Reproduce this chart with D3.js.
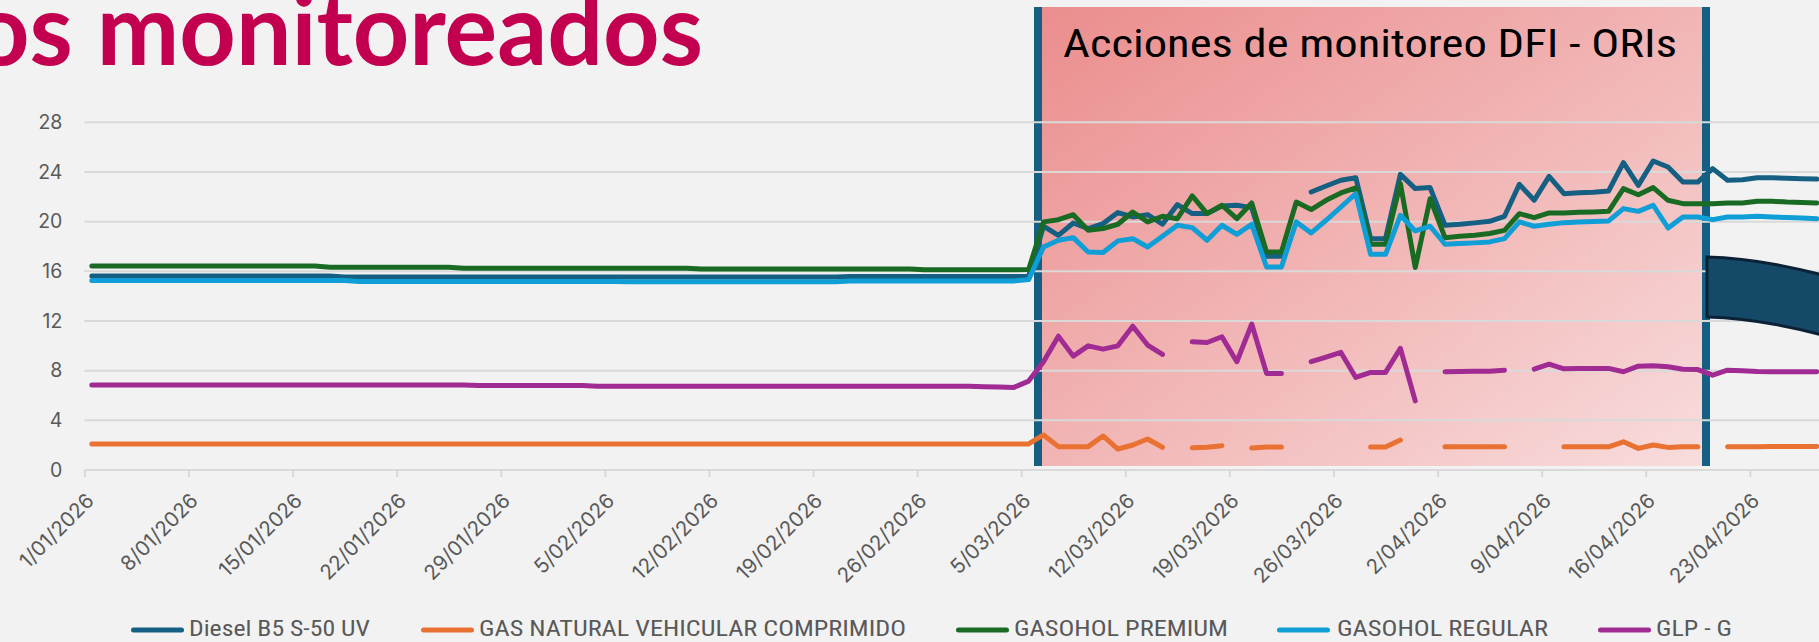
<!DOCTYPE html>
<html><head><meta charset="utf-8">
<script src="https://cdn.jsdelivr.net/npm/d3@7"></script>
<style>html,body{margin:0;padding:0;background:#F2F2F2;overflow:hidden}</style>
</head><body>
<svg id="c" width="1819" height="642"></svg>
<script>
// ---------------- DATA ----------------
const startDate = Date.UTC(2026, 0, 1);   // first category: 1/01/2026, one value per day
const tickLabels = ["1/01/2026","8/01/2026","15/01/2026","22/01/2026","29/01/2026","5/02/2026",
  "12/02/2026","19/02/2026","26/02/2026","5/03/2026","12/03/2026","19/03/2026","26/03/2026",
  "2/04/2026","9/04/2026","16/04/2026","23/04/2026"];
const yTicks = [0,4,8,12,16,20,24,28];
const seriesNames = ["Diesel B5 S-50 UV","GAS NATURAL VEHICULAR COMPRIMIDO","GASOHOL PREMIUM","GASOHOL REGULAR","GLP - G"];
const seriesColors = ["#156082","#E97132","#196B24","#0F9ED5","#A02B93"];

const diesel = [
  15.62,15.62,15.62,15.62,15.62,15.62,15.62,
  15.62,15.62,15.62,15.62,15.62,15.62,15.62,
  15.62,15.62,15.62,15.55,15.55,15.55,15.55,
  15.55,15.55,15.55,15.55,15.55,15.55,15.55,
  15.55,15.55,15.55,15.55,15.55,15.55,15.55,
  15.55,15.55,15.55,15.55,15.55,15.55,15.55,
  15.55,15.55,15.55,15.55,15.55,15.55,15.55,
  15.55,15.55,15.58,15.58,15.58,15.58,15.58,
  15.58,15.58,15.58,15.58,15.58,15.58,15.58,
  15.60,19.63,18.90,19.89,19.44,19.84,20.73,
  20.38,20.56,19.79,21.37,20.65,20.65,21.26,
  21.32,21.13,17.21,17.21,null,22.39,22.87,
  23.33,23.54,18.63,18.63,23.81,22.66,22.74,
  19.71,19.79,19.90,20.03,20.43,23.00,21.72,
  23.65,22.25,22.33,22.36,22.47,24.75,22.92,
  24.88,24.40,23.19,23.19,24.27,23.33,23.38,
  23.54,23.54,23.49,23.46,23.43];

const gnv = [
  2.10,2.10,2.10,2.10,2.10,2.10,2.10,
  2.10,2.10,2.10,2.10,2.10,2.10,2.10,
  2.10,2.10,2.10,2.10,2.10,2.10,2.10,
  2.10,2.10,2.10,2.10,2.10,2.10,2.10,
  2.10,2.10,2.10,2.10,2.10,2.10,2.10,
  2.10,2.10,2.10,2.10,2.10,2.10,2.10,
  2.10,2.10,2.10,2.10,2.10,2.10,2.10,
  2.10,2.10,2.10,2.10,2.10,2.10,2.10,
  2.10,2.10,2.10,2.10,2.10,2.10,2.10,
  2.10,2.82,1.88,1.88,1.88,2.74,1.69,
  2.01,2.50,1.83,null,1.80,1.83,1.96,
  null,1.77,1.85,1.85,null,null,null,
  null,null,1.85,1.85,2.41,null,null,
  1.87,1.87,1.87,1.87,1.87,null,null,
  null,1.87,1.87,1.87,1.87,2.27,1.74,
  2.01,1.82,1.87,1.87,null,1.87,1.88,
  1.88,1.90,1.90,1.90,1.90];

const premium = [
  16.42,16.42,16.42,16.42,16.42,16.42,16.42,
  16.42,16.42,16.42,16.42,16.42,16.42,16.42,
  16.42,16.42,16.32,16.32,16.32,16.32,16.32,
  16.32,16.32,16.32,16.32,16.25,16.25,16.25,
  16.25,16.25,16.25,16.25,16.25,16.25,16.25,
  16.25,16.25,16.25,16.25,16.25,16.25,16.18,
  16.18,16.18,16.18,16.18,16.18,16.18,16.18,
  16.18,16.18,16.18,16.18,16.18,16.18,16.18,
  16.12,16.12,16.12,16.12,16.12,16.12,16.12,
  16.14,19.98,20.16,20.56,19.30,19.44,19.79,
  20.78,19.98,20.43,20.24,22.07,20.65,21.32,
  20.24,21.50,17.56,17.56,21.58,20.97,21.72,
  22.31,22.71,18.18,18.18,23.06,16.30,21.85,
  18.71,18.82,18.90,19.04,19.30,20.64,20.32,
  20.70,20.70,20.75,20.78,20.83,22.66,22.17,
  22.74,21.72,21.45,21.45,21.45,21.50,21.50,
  21.64,21.64,21.58,21.55,21.50];

const regular = [
  15.26,15.26,15.26,15.26,15.26,15.26,15.26,
  15.26,15.26,15.26,15.26,15.26,15.26,15.26,
  15.26,15.26,15.26,15.26,15.18,15.18,15.18,
  15.18,15.18,15.18,15.18,15.18,15.18,15.18,
  15.18,15.18,15.18,15.18,15.18,15.18,15.18,
  15.18,15.15,15.15,15.15,15.15,15.15,15.15,
  15.15,15.15,15.15,15.15,15.15,15.15,15.15,
  15.15,15.15,15.22,15.22,15.22,15.22,15.22,
  15.22,15.22,15.22,15.22,15.22,15.22,15.22,
  15.33,17.96,18.50,18.71,17.56,17.51,18.45,
  18.63,17.96,18.82,19.71,19.52,18.50,19.71,
  18.98,19.79,16.35,16.35,19.98,19.09,20.11,
  21.18,22.25,17.37,17.37,20.51,19.25,19.63,
  18.18,18.23,18.29,18.37,18.63,19.98,19.63,
  19.79,19.92,19.98,20.01,20.06,21.05,20.83,
  21.32,19.49,20.38,20.38,20.16,20.38,20.38,
  20.43,20.38,20.33,20.30,20.24];

const glp = [
  6.85,6.85,6.85,6.85,6.85,6.85,6.85,
  6.85,6.85,6.85,6.85,6.85,6.85,6.85,
  6.85,6.85,6.85,6.85,6.85,6.85,6.85,
  6.85,6.85,6.85,6.85,6.85,6.80,6.80,
  6.80,6.80,6.80,6.80,6.80,6.80,6.74,
  6.74,6.74,6.74,6.74,6.74,6.74,6.74,
  6.74,6.74,6.74,6.74,6.74,6.74,6.74,
  6.74,6.74,6.74,6.74,6.74,6.74,6.74,
  6.74,6.74,6.74,6.74,6.70,6.68,6.65,
  7.16,8.71,10.78,9.17,10.00,9.73,10.00,
  11.58,10.06,9.31,null,10.32,10.27,10.73,
  8.72,11.75,7.78,7.78,null,8.72,9.09,
  9.47,7.45,7.86,7.86,9.79,5.57,null,
  7.91,7.93,7.95,7.96,8.04,null,8.12,
  8.52,8.15,8.18,8.18,8.18,7.91,8.36,
  8.39,8.31,8.12,8.09,7.64,8.04,7.99,
  7.93,7.91,7.91,7.91,7.91];

const seriesValues = [diesel, gnv, premium, regular, glp];

const titleText = "os monitoreados";
const bandText = "Acciones de monitoreo DFI - ORIs";

// ---------------- LAYOUT ----------------
const W = 1819, H = 642;
const plotLeft = 84.4, dayPx = 14.87, yTop = 122.3, yBottom = 470;
const DAY = 86400000;

const svg = d3.select("#c");
svg.append("rect").attr("width", W).attr("height", H).attr("fill", "#F2F2F2");

const x = d3.scaleUtc()
  .domain([new Date(startDate), new Date(startDate + 120 * DAY)])
  .range([plotLeft, plotLeft + 120 * dayPx]);
const y = d3.scaleLinear().domain([0, 28]).range([yBottom, yTop]);

const dateOf = i => new Date(startDate + i * DAY + DAY / 2);   // points centred in day slot
const parseLabel = s => { const [d, m, yy] = s.split("/").map(Number); return new Date(Date.UTC(yy, m - 1, d)); };
const tickDates = tickLabels.map(parseLabel);

// highlight band (annotation shape behind the chart)
const defs = svg.append("defs");
const g1 = defs.append("linearGradient").attr("id", "pink")
  .attr("x1", 0).attr("y1", 0).attr("x2", 1).attr("y2", 1);
g1.append("stop").attr("offset", 0).attr("stop-color", "#EB8D8D");
g1.append("stop").attr("offset", 1).attr("stop-color", "#F8DCDC");

const band = {x0: 1042, x1: 1702, y0: 7, y1: 466, bar: 8};
svg.append("rect").attr("x", band.x0).attr("y", band.y0)
  .attr("width", band.x1 - band.x0).attr("height", band.y1 - band.y0).attr("fill", "url(#pink)");
svg.append("rect").attr("x", band.x0 - band.bar).attr("y", band.y0)
  .attr("width", band.bar).attr("height", band.y1 - band.y0).attr("fill", "#156082");
svg.append("rect").attr("x", band.x1).attr("y", band.y0)
  .attr("width", band.bar).attr("height", band.y1 - band.y0).attr("fill", "#156082");

// gridlines
svg.append("g").selectAll("line").data(yTicks.filter(v => v > 0)).join("line")
  .attr("x1", plotLeft).attr("x2", W).attr("y1", d => y(d)).attr("y2", d => y(d))
  .attr("stroke", "#D9D9D9").attr("stroke-width", 2);

// y axis labels
const yAxis = svg.append("g").attr("transform", `translate(${plotLeft},0)`)
  .call(d3.axisLeft(y).tickValues(yTicks).tickSize(0).tickPadding(22));
yAxis.select(".domain").remove();
yAxis.selectAll("text").attr("font-family", "Inter, 'Noto Sans', sans-serif")
  .attr("font-size", 19.5).attr("fill", "#595959");

// x axis
const xAxis = svg.append("g").attr("transform", `translate(0,${yBottom})`)
  .call(d3.axisBottom(x).tickValues(tickDates).tickFormat((d, i) => tickLabels[i]).tickSize(7));
xAxis.select(".domain").remove();
xAxis.selectAll(".tick line").attr("stroke", "#D9D9D9").attr("stroke-width", 2);
xAxis.selectAll("text").attr("x", 0).attr("y", 0).attr("dy", null)
  .attr("text-anchor", "end").attr("transform", "translate(10.3,32) rotate(-45)")
  .attr("font-family", "Inter, 'Noto Sans', sans-serif").attr("font-size", 20.5).attr("fill", "#595959");
svg.append("line").attr("x1", plotLeft).attr("x2", W).attr("y1", yBottom).attr("y2", yBottom)
  .attr("stroke", "#D9D9D9").attr("stroke-width", 2);

// series lines
const line = d3.line().defined(v => v != null).x((v, i) => x(dateOf(i))).y(v => y(v));
svg.append("g").selectAll("path").data(seriesValues).join("path")
  .attr("d", d => line(d)).attr("fill", "none")
  .attr("stroke", (d, i) => seriesColors[i]).attr("stroke-width", 5)
  .attr("stroke-linecap", "round").attr("stroke-linejoin", "round");

// curved arrow shape at right edge
svg.append("path")
  .attr("d", "M1707,257 Q1760,258 1830,277 L1830,337 Q1760,318 1707,317 Z")
  .attr("fill", "#144A68").attr("stroke", "#0B2236").attr("stroke-width", 3);

// band caption
svg.append("text").attr("x", 1063).attr("y", 57).text(bandText)
  .attr("font-family", "'Liberation Sans Narrow', 'Roboto Condensed', 'DejaVu Sans Condensed', sans-serif")
  .attr("font-size", 38).attr("fill", "#000")
  .attr("textLength", 614).attr("lengthAdjust", "spacingAndGlyphs");

// title (cropped on the left, as in the original slide)
svg.append("text").attr("x", -27).attr("y", 65).text(titleText)
  .attr("font-family", "Lato, 'Open Sans', sans-serif").attr("font-weight", 700)
  .attr("font-size", 99).attr("fill", "#C3004F")
  .attr("textLength", 730).attr("lengthAdjust", "spacingAndGlyphs");

// legend
const legendItems = [
  {lx: 131, tx: 189, tw: 181},
  {lx: 421, tx: 479, tw: 427},
  {lx: 956, tx: 1014, tw: 214},
  {lx: 1277, tx: 1337, tw: 211},
  {lx: 1598, tx: 1656, tw: 76}];
const lg = svg.append("g");
legendItems.forEach((it, i) => {
  lg.append("line").attr("x1", it.lx + 2.5).attr("x2", it.lx + 50.5).attr("y1", 630).attr("y2", 630)
    .attr("stroke", seriesColors[i]).attr("stroke-width", 5).attr("stroke-linecap", "round");
  lg.append("text").attr("x", it.tx).attr("y", 636).text(seriesNames[i])
    .attr("font-family", "'Liberation Sans Narrow', 'Roboto Condensed', 'DejaVu Sans Condensed', sans-serif")
    .attr("font-size", 22).attr("fill", "#595959")
    .attr("textLength", it.tw).attr("lengthAdjust", "spacingAndGlyphs");
});
</script>
</body></html>
